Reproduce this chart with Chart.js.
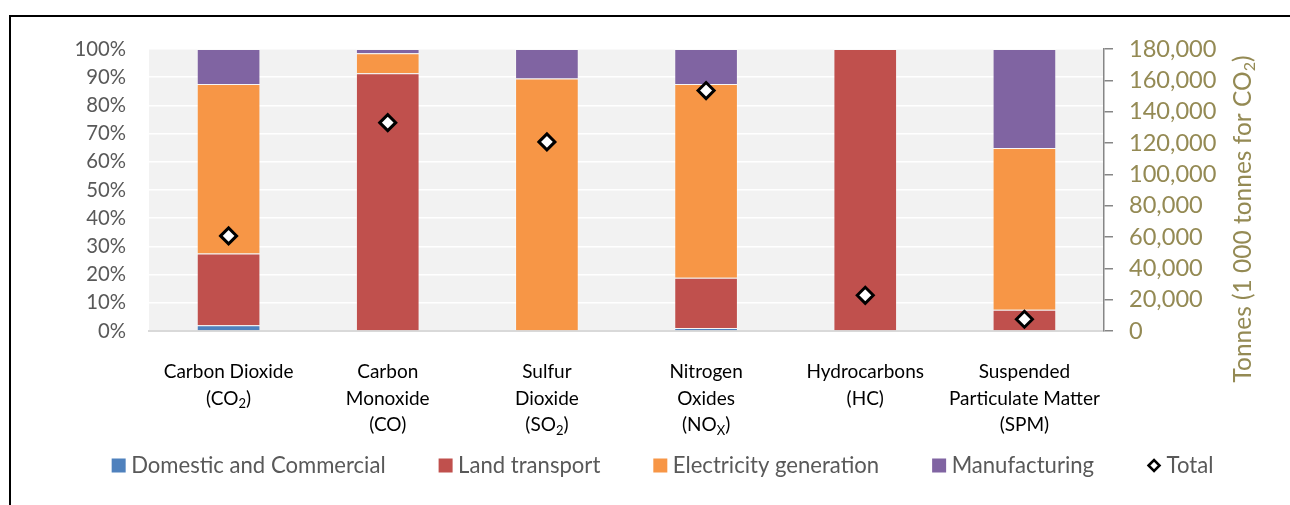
<!DOCTYPE html>
<html>
<head>
<meta charset="utf-8">
<script src="https://cdn.jsdelivr.net/npm/chart.js@4.4.1/dist/chart.umd.min.js"></script>
<style>
  html, body { margin: 0; padding: 0; background: #fff; }
  #wrap { position: relative; width: 1290px; height: 505px; overflow: hidden; }
  #wrap canvas { position: absolute; left: 0; top: 0; }
  #frame { position: absolute; left: 9px; top: 15px; width: 1400px; height: 600px;
           border-top: 2px solid #000; border-left: 2px solid #000; pointer-events: none; }
</style>
</head>
<body>
<div id="wrap">
  <canvas id="chart" width="1290" height="505"></canvas>
  <div id="frame"></div>
</div>
<script>
// Pollutant categories; "_" marks the next character as a subscript.
const categories = [
  ['Carbon Dioxide', '(CO_2)'],
  ['Carbon', 'Monoxide', '(CO)'],
  ['Sulfur', 'Dioxide', '(SO_2)'],
  ['Nitrogen', 'Oxides', '(NO_X)'],
  ['Hydrocarbons', '(HC)'],
  ['Suspended', 'Particulate Matter', '(SPM)']
];

// Share of each source in the emissions of every pollutant (%).
const domesticCommercial    = [2.0, 0, 0, 1.1, 0, 0];
const landTransport         = [25.5, 91.4, 0, 17.8, 100, 7.5];
const electricityGeneration = [60.1, 7.1, 89.5, 68.7, 0, 57.4];
const manufacturing         = [12.4, 1.5, 10.5, 12.4, 0, 35.1];

// Total emissions (tonnes; thousand tonnes for CO2).
const totals = [60700, 133000, 120700, 153500, 22800, 7500];

const seriesNames = ['Domestic and Commercial', 'Land transport', 'Electricity generation', 'Manufacturing', 'Total'];
const rightAxisTitle = 'Tonnes (1 000 tonnes for CO_2)';

const FONT = 'Lato, "Open Sans", sans-serif';
const GREY_TEXT = '#595959';
const OLIVE = '#948a54';

// Draws a string in which "_x" renders x as a subscript.
function drawRich(ctx, text, x, y, size, align, color) {
  const segs = [];
  for (let i = 0; i < text.length; i++) {
    if (text[i] === '_' && i + 1 < text.length) {
      segs.push({ t: text[i + 1], sub: true });
      i++;
    } else if (segs.length && !segs[segs.length - 1].sub) {
      segs[segs.length - 1].t += text[i];
    } else {
      segs.push({ t: text[i], sub: false });
    }
  }
  const subSize = Math.round(size * 0.66);
  let total = 0;
  segs.forEach(s => {
    ctx.font = `${s.sub ? subSize : size}px ${FONT}`;
    s.w = ctx.measureText(s.t).width;
    total += s.w;
  });
  let cx = align === 'center' ? x - total / 2 : x;
  ctx.fillStyle = color;
  ctx.textAlign = 'left';
  ctx.textBaseline = 'middle';
  segs.forEach(s => {
    ctx.font = `${s.sub ? subSize : size}px ${FONT}`;
    ctx.fillText(s.t, cx, s.sub ? y + size * 0.28 : y);
    cx += s.w;
  });
  return total;
}

const decorations = {
  id: 'decorations',
  beforeDraw(chart) {
    const { ctx, chartArea: a } = chart;
    ctx.save();
    ctx.fillStyle = '#f2f2f2';
    ctx.fillRect(a.left, a.top, a.right - a.left, a.bottom - a.top);
    ctx.restore();
  },
  afterDraw(chart) {
    const { ctx } = chart;
    const xs = chart.scales.x;
    ctx.save();

    // Category labels under the bars
    categories.forEach((lines, i) => {
      const cx = xs.getPixelForValue(i);
      lines.forEach((line, j) => {
        drawRich(ctx, line, cx, 372 + j * 26.5, 19, 'center', '#000');
      });
    });

    // Right axis title, reading upwards
    ctx.save();
    ctx.translate(1243, 219);
    ctx.rotate(-Math.PI / 2);
    drawRich(ctx, rightAxisTitle, 0, 0, 24.5, 'center', OLIVE);
    ctx.restore();

    // Legend row
    const box = 14, textGap = 5.5, itemGap = 53, fontSize = 22.1, ly = 465.5;
    ctx.font = `${fontSize}px ${FONT}`;
    const items = chart.data.datasets.map(ds => ({
      ds, w: box + textGap + ctx.measureText(ds.label).width
    }));
    const totalW = items.reduce((s, it) => s + it.w, 0) + itemGap * (items.length - 1);
    let lx = 662.5 - totalW / 2;
    items.forEach(({ ds, w }) => {
      if (ds.type === 'line') {
        const r = 5.5, cx = lx + box / 2;
        ctx.beginPath();
        ctx.moveTo(cx - r, ly); ctx.lineTo(cx, ly - r);
        ctx.lineTo(cx + r, ly); ctx.lineTo(cx, ly + r);
        ctx.closePath();
        ctx.fillStyle = '#fff'; ctx.fill();
        ctx.lineWidth = 2.5; ctx.strokeStyle = '#000'; ctx.stroke();
      } else {
        ctx.fillStyle = ds.backgroundColor;
        ctx.fillRect(lx, ly - box / 2, box, box);
      }
      ctx.font = `${fontSize}px ${FONT}`;
      ctx.fillStyle = GREY_TEXT;
      ctx.textAlign = 'left';
      ctx.textBaseline = 'middle';
      ctx.fillText(ds.label, lx + box + textGap, ly);
      lx += w + itemGap;
    });
    ctx.restore();
  }
};

const barStyle = (color) => ({
  type: 'bar',
  backgroundColor: color,
  borderColor: 'rgba(255,255,255,0.35)',
  borderWidth: 1,
  yAxisID: 'y',
  order: 1,
  barPercentage: 0.4,
  categoryPercentage: 1
});

new Chart(document.getElementById('chart'), {
  type: 'bar',
  data: {
    labels: categories.map(c => c.join(' ')),
    datasets: [
      { label: seriesNames[0], data: domesticCommercial, ...barStyle('#4f81bd') },
      { label: seriesNames[1], data: landTransport, ...barStyle('#c0504d') },
      { label: seriesNames[2], data: electricityGeneration, ...barStyle('#f79646') },
      { label: seriesNames[3], data: manufacturing, ...barStyle('#8064a2') },
      {
        label: seriesNames[4], data: totals, type: 'line', yAxisID: 'y2', order: 0,
        showLine: false, pointStyle: 'rectRot', pointRadius: 8, pointHoverRadius: 8,
        pointBackgroundColor: '#fff', pointBorderColor: '#000', pointBorderWidth: 3,
        borderColor: '#000', backgroundColor: '#fff'
      }
    ]
  },
  options: {
    responsive: false,
    animation: false,
    layout: { padding: { top: 49, left: 0, right: 0, bottom: 0 } },
    plugins: { legend: { display: false }, tooltip: { enabled: false }, title: { display: false } },
    scales: {
      x: {
        stacked: true,
        grid: { display: false },
        border: { display: true, color: '#d9d9d9', width: 2 },
        ticks: { display: false },
        afterFit: s => { s.height = 174; }
      },
      y: {
        stacked: true,
        position: 'left',
        min: 0, max: 100,
        grid: { color: '#ffffff', lineWidth: 1.5, drawTicks: false },
        border: { display: false },
        ticks: {
          stepSize: 10, padding: 23, color: GREY_TEXT,
          font: { family: FONT, size: 20.3 },
          callback: v => v + '%'
        },
        afterFit: s => { s.width = 149; }
      },
      y2: {
        position: 'right',
        min: 0, max: 180000,
        grid: { drawOnChartArea: false, color: '#868686', tickColor: '#868686', tickLength: 9, lineWidth: 1.5 },
        border: { display: true, color: '#868686', width: 1.5 },
        ticks: {
          stepSize: 20000, padding: 16, color: OLIVE,
          font: { family: FONT, size: 23.6 },
          callback: v => v.toLocaleString('en-US')
        },
        afterFit: s => { s.width = 186; }
      }
    }
  },
  plugins: [decorations]
});
</script>
</body>
</html>
